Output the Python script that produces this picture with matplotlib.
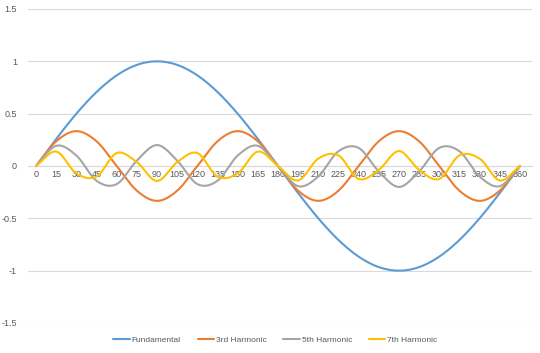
import matplotlib

matplotlib.use("Agg")
import matplotlib.pyplot as plt
import numpy as np

ANGLES = list(range(0, 361, 15))
FUNDAMENTAL = [0, 0.259, 0.5, 0.707, 0.866, 0.966, 1, 0.966, 0.866, 0.707, 0.5, 0.259, 0,
               -0.259, -0.5, -0.707, -0.866, -0.966, -1, -0.966, -0.866, -0.707, -0.5, -0.259, 0]
HARMONIC_3 = [0, 0.236, 0.333, 0.236, 0, -0.236, -0.333, -0.236, 0, 0.236, 0.333, 0.236, 0,
              -0.236, -0.333, -0.236, 0, 0.236, 0.333, 0.236, 0, -0.236, -0.333, -0.236, 0]
HARMONIC_5 = [0, 0.193, 0.1, -0.141, -0.173, 0.052, 0.2, 0.052, -0.173, -0.141, 0.1, 0.193, 0,
              -0.193, -0.1, 0.141, 0.173, -0.052, -0.2, -0.052, 0.173, 0.141, -0.1, -0.193, 0]
HARMONIC_7 = [0, 0.138, -0.071, -0.101, 0.124, 0.037, -0.143, 0.037, 0.124, -0.101, -0.071, 0.138, 0,
              -0.138, 0.071, 0.101, -0.124, -0.037, 0.143, -0.037, -0.124, 0.101, 0.071, -0.138, 0]
NAMES = ["Fundamental", "3rd Harmonic", "5th Harmonic", "7th Harmonic"]
COLORS = ["#5B9BD5", "#ED7D31", "#A5A5A5", "#FFC000"]
TEXT = "#595959"

plt.rcParams["font.family"] = ["Liberation Sans", "DejaVu Sans"]


def smooth(xs, ys, steps=24):
    # Catmull-Rom through the points, close to Excel's smoothed line
    xs = np.asarray(xs, float)
    ys = np.asarray(ys, float)
    px = np.concatenate([[2 * xs[0] - xs[1]], xs, [2 * xs[-1] - xs[-2]]])
    py = np.concatenate([[2 * ys[0] - ys[1]], ys, [2 * ys[-1] - ys[-2]]])
    out_x, out_y = [], []
    t = np.linspace(0, 1, steps, endpoint=False)
    for i in range(1, len(px) - 2):
        for p, out in ((px, out_x), (py, out_y)):
            p0, p1, p2, p3 = p[i - 1], p[i], p[i + 1], p[i + 2]
            out.extend(0.5 * (2 * p1 + (-p0 + p2) * t
                              + (2 * p0 - 5 * p1 + 4 * p2 - p3) * t ** 2
                              + (-p0 + 3 * p1 - 3 * p2 + p3) * t ** 3))
    out_x.append(xs[-1])
    out_y.append(ys[-1])
    return np.array(out_x), np.array(out_y)


fig = plt.figure(figsize=(5.4, 3.53), dpi=100)
ax = fig.add_axes([28 / 540, 30 / 353, 504 / 540, 314 / 353])

for values, name, color in zip([FUNDAMENTAL, HARMONIC_3, HARMONIC_5, HARMONIC_7], NAMES, COLORS):
    sx, sy = smooth(ANGLES, values)
    ax.plot(sx, sy, color=color, lw=1.5, label=name, solid_capstyle="round", zorder=3)

ax.set_xlim(-6, 369)
ax.set_ylim(-1.5, 1.5)
ax.set_yticks([-1.5, -1, -0.5, 0, 0.5, 1, 1.5])
ax.set_yticklabels(["-1.5", "-1", "-0.5", "0", "0.5", "1", "1.5"])
ax.grid(axis="y", color="#D9D9D9", lw=0.8)
ax.set_axisbelow(True)
for side in ["top", "right", "left"]:
    ax.spines[side].set_visible(False)
ax.spines["bottom"].set_position(("data", 0))
ax.spines["bottom"].set_color("#D9D9D9")
ax.spines["bottom"].set_linewidth(0.8)
ax.set_xticks(ANGLES)
ax.set_xticklabels([str(a) for a in ANGLES])
ax.tick_params(axis="x", length=0, pad=3, labelsize=6.5, labelcolor=TEXT)
ax.tick_params(axis="y", length=0, pad=8, labelsize=6.5, labelcolor=TEXT)

fig.legend(loc="center", bbox_to_anchor=(0.51, 13 / 353), ncol=4, frameon=False,
           fontsize=6, labelcolor=TEXT, handlelength=2.0, columnspacing=2.0, handletextpad=0.2)

fig.savefig("out.png", dpi=100)
